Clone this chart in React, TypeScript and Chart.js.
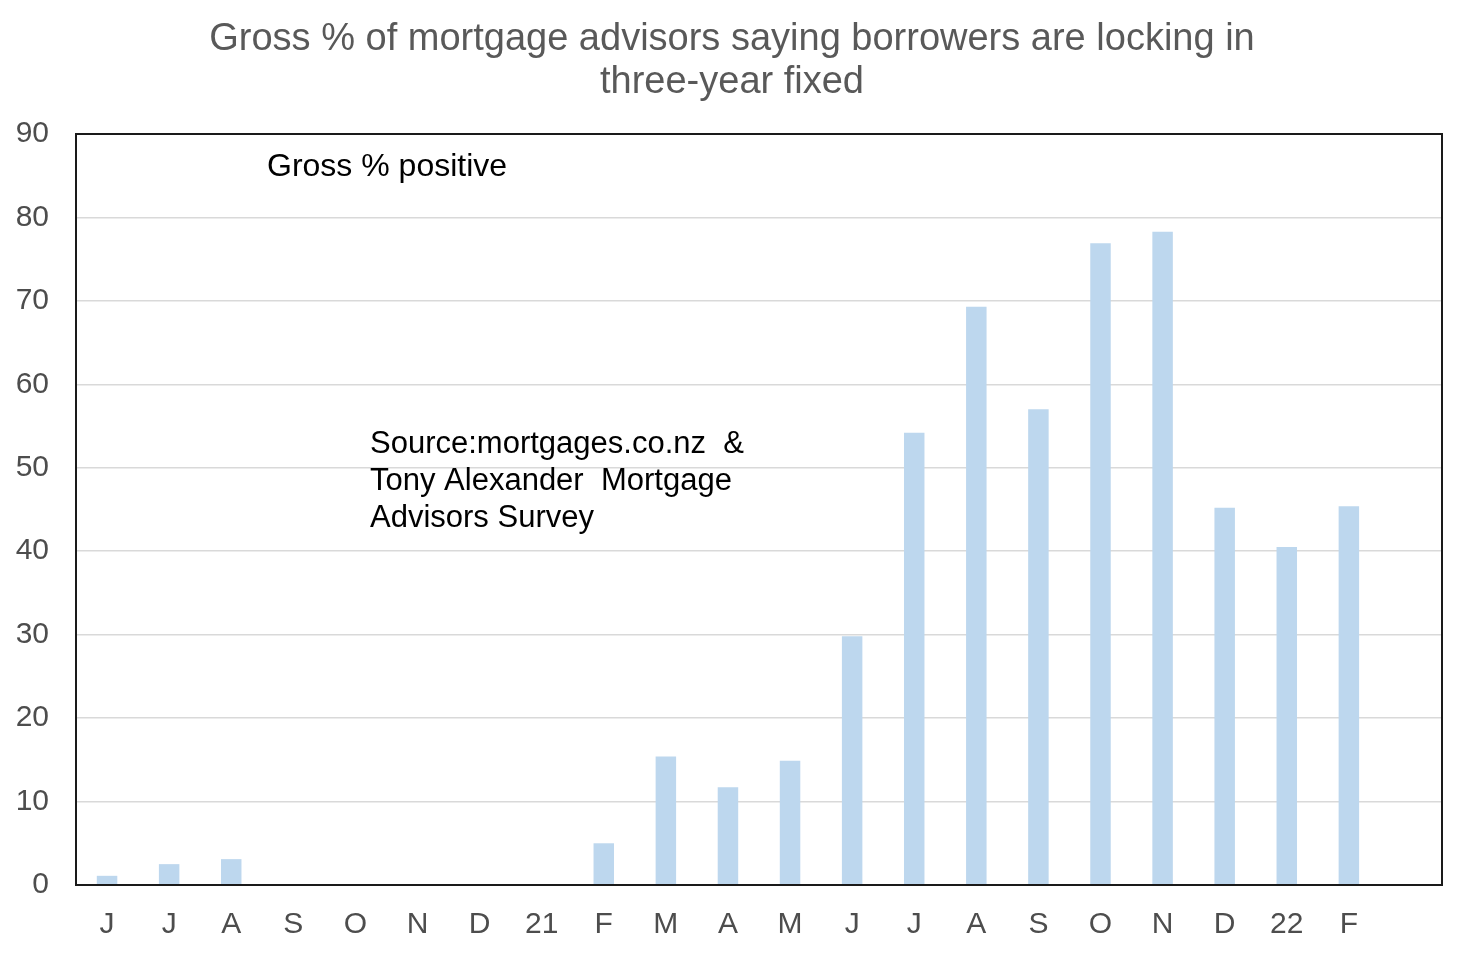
import React, { useEffect, useRef } from "react";
import { Chart, registerables } from "chart.js";

Chart.register(...registerables);

const months = ["J", "J", "A", "S", "O", "N", "D", "21", "F", "M", "A", "M", "J", "J", "A", "S", "O", "N", "D", "22", "F", ""];
const grossPositive = [1.1, 2.5, 3.1, 0, 0, 0, 0, 0, 5.0, 15.4, 11.7, 14.9, 29.8, 54.2, 69.3, 57.0, 76.9, 78.3, 45.2, 40.5, 45.4, null];
const titleLines = ["Gross % of mortgage advisors saying borrowers are locking in", "three-year fixed"];
const sourceLines = ["Source:mortgages.co.nz  &", "Tony Alexander  Mortgage", "Advisors Survey"];

const FONT = "'Liberation Sans', Arial, sans-serif";

// title centred on the whole canvas, frame round the plot area, and the text notes
const notesPlugin = {
  id: "notes",
  afterDraw(chart: Chart) {
    const { ctx, chartArea, width } = chart;
    const { left, top, right, bottom } = chartArea;
    ctx.save();
    ctx.fillStyle = "#595959";
    ctx.font = `38px ${FONT}`;
    ctx.textAlign = "center";
    ctx.textBaseline = "middle";
    titleLines.forEach((line, i) => {
      ctx.fillText(line, width / 2, 40 + i * 43);
    });

    ctx.strokeStyle = "#1a1a1a";
    ctx.lineWidth = 2;
    ctx.strokeRect(left, top, right - left, bottom - top);

    ctx.fillStyle = "#000";
    ctx.font = `32px ${FONT}`;
    ctx.textAlign = "left";
    ctx.fillText("Gross % positive", left + 191, top + 33);
    ctx.font = `31px ${FONT}`;
    sourceLines.forEach((line, i) => {
      ctx.fillText(line, left + 294, top + 310 + i * 37);
    });
    ctx.restore();
  },
};

const GrossChart = () => {
  const canvasRef = useRef<HTMLCanvasElement>(null);
  const chartRef = useRef<Chart | null>(null);

  useEffect(() => {
    if (!canvasRef.current) return;
    const ctx = canvasRef.current.getContext("2d");
    if (!ctx) return;

    chartRef.current = new Chart(ctx, {
      type: "bar",
      data: {
        labels: months,
        datasets: [
          {
            label: "Gross % positive",
            data: grossPositive,
            backgroundColor: "#BDD7EE",
            barPercentage: 0.33,
            categoryPercentage: 1,
          },
        ],
      },
      options: {
        responsive: true,
        maintainAspectRatio: false,
        animation: false,
        layout: {
          padding: { left: 0, right: 22, top: 134, bottom: 0 },
        },
        scales: {
          x: {
            grid: { display: false, drawTicks: false },
            border: { display: false },
            ticks: {
              color: "#4d4d4d",
              font: { size: 30, family: FONT },
              padding: 22,
              autoSkip: false,
              maxRotation: 0,
            },
            afterFit: (scale: any) => {
              scale.height = 69;
            },
          },
          y: {
            min: 0,
            max: 90,
            grid: { color: "#D9D9D9", lineWidth: 1.5, drawTicks: false },
            border: { display: false },
            ticks: {
              stepSize: 10,
              color: "#4d4d4d",
              font: { size: 30, family: FONT },
              padding: 27,
            },
            afterFit: (scale: any) => {
              scale.width = 76;
            },
          },
        },
        plugins: {
          legend: { display: false },
          tooltip: { enabled: false },
          title: { display: false },
        },
      },
      plugins: [notesPlugin],
    });

    return () => {
      if (chartRef.current) {
        chartRef.current.destroy();
        chartRef.current = null;
      }
    };
  }, []);

  return (
    <div style={{ position: "absolute", left: 0, top: 0, width: 1464, height: 954, background: "#fff" }}>
      <canvas ref={canvasRef} />
    </div>
  );
};

export default function App() {
  return <GrossChart />;
}
